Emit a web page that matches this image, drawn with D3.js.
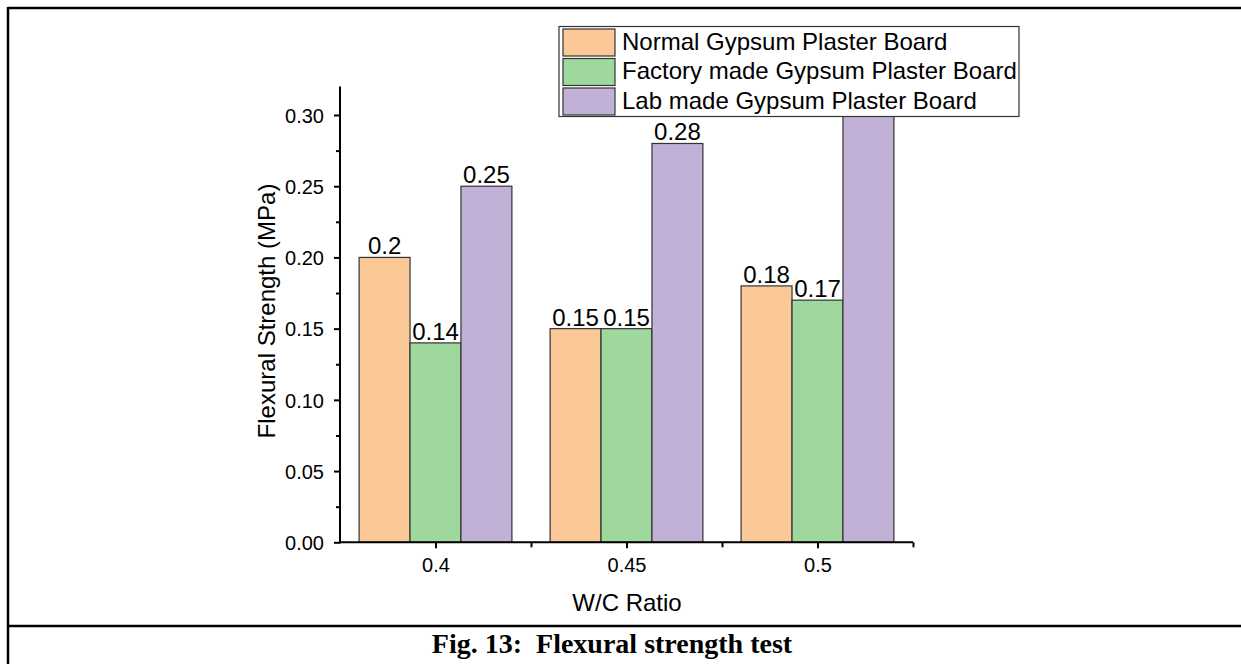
<!DOCTYPE html>
<html><head><meta charset="utf-8">
<script src="https://cdn.jsdelivr.net/npm/d3@7"></script>
<style>body{margin:0;background:#fff;} svg{display:block;}</style>
</head><body>
<svg id="c" width="1241" height="664"></svg>
<script>
const categories = [0.4, 0.45, 0.5];
const seriesNames = ["Normal Gypsum Plaster Board", "Factory made Gypsum Plaster Board", "Lab made Gypsum Plaster Board"];
const normalValues = [0.20, 0.15, 0.18];
const factoryValues = [0.14, 0.15, 0.17];
const labValues = [0.25, 0.28, 0.33];
// label of the last lab bar is hidden behind the legend in the reference
const valueLabels = [["0.2","0.15","0.18"],["0.14","0.15","0.17"],["0.25","0.28",null]];
const colors = ["#FBC997", "#9FD89D", "#C1B1D6"];
const yTicks = [0, 0.05, 0.10, 0.15, 0.20, 0.25, 0.30];
const xTicks = [0.4, 0.45, 0.5];

const svg = d3.select("#c");
const series = [normalValues, factoryValues, labValues];
const font = "Arial, 'Liberation Sans', sans-serif";

// outer frame
svg.append("line").attr("x1",8).attr("x2",1241).attr("y1",8).attr("y2",8).attr("stroke","#000").attr("stroke-width",2.5);
svg.append("line").attr("x1",8).attr("x2",8).attr("y1",7).attr("y2",664).attr("stroke","#000").attr("stroke-width",2.5);
svg.append("line").attr("x1",8).attr("x2",1241).attr("y1",626).attr("y2",626).attr("stroke","#000").attr("stroke-width",2.5);

const x = d3.scaleLinear().domain([0.375, 0.525]).range([340, 913]);
const y = d3.scaleLinear().domain([0, 0.32]).range([542.3, 86.5]);
const barW = 0.04/3;

const g = svg.append("g");
series.forEach((vals, si) => {
  g.selectAll(null).data(vals).enter().append("rect")
    .attr("x", (d,i) => x(categories[i] - 1.5*barW + si*barW))
    .attr("width", x(barW) - x(0))
    .attr("y", d => y(d))
    .attr("height", d => y(0) - y(d))
    .attr("fill", colors[si]).attr("stroke", "#333").attr("stroke-width", 1.2);
  g.selectAll(null).data(vals.map((d,i)=>({d,i,l:valueLabels[si][i]})).filter(o=>o.l)).enter().append("text")
    .attr("x", o => x(categories[o.i] - barW + si*barW))
    .attr("y", o => y(o.d) - 3)
    .attr("text-anchor","middle").attr("font-family",font).attr("font-size",24)
    .text(o => o.l);
});

// axes
const yAxis = d3.axisLeft(y).tickValues(yTicks).tickFormat(d3.format(".2f")).tickSize(6).tickPadding(10);
const ya = svg.append("g").attr("transform","translate(340,0)").call(yAxis);
const yMinor = d3.axisLeft(y).tickValues(d3.range(0.025,0.32,0.05)).tickFormat("").tickSize(4);
svg.append("g").attr("transform","translate(340,0)").call(yMinor).select(".domain").remove();
const xAxis = d3.axisBottom(x).tickValues(xTicks).tickFormat(d => String(d)).tickSize(6).tickPadding(10);
const xa = svg.append("g").attr("transform","translate(0,542.3)").call(xAxis);
const xMinor = d3.axisBottom(x).tickValues([0.425, 0.475, 0.525]).tickFormat("").tickSize(5);
svg.append("g").attr("transform","translate(0,542.3)").call(xMinor).select(".domain").remove();
[ya, xa].forEach(a => {
  a.selectAll("text").attr("font-family",font).attr("font-size",20).attr("fill","#000");
});
ya.selectAll("text").attr("dy","0.36em");
svg.selectAll(".domain").attr("stroke","#000").attr("stroke-width",2);
svg.selectAll(".tick line").attr("stroke","#000").attr("stroke-width",2);
ya.select(".domain").attr("d","M0,543.3V86.5");
xa.select(".domain").attr("d","M339,0H913");

svg.append("text").attr("transform","translate(275,311) rotate(-90)").attr("text-anchor","middle")
  .attr("font-family",font).attr("font-size",24).text("Flexural Strength (MPa)");
svg.append("text").attr("x",627).attr("y",611).attr("text-anchor","middle")
  .attr("font-family",font).attr("font-size",24).text("W/C Ratio");

// legend
const lg = svg.append("g");
lg.append("rect").attr("x",559).attr("y",26.5).attr("width",460).attr("height",90).attr("fill","#fff").attr("stroke","#333").attr("stroke-width",1.2);
seriesNames.forEach((n, i) => {
  lg.append("rect").attr("x",563).attr("y",29+i*29.5).attr("width",52).attr("height",27)
    .attr("fill",colors[i]).attr("stroke","#333").attr("stroke-width",1.2);
  lg.append("text").attr("x",622).attr("y",50+i*29.3).attr("font-family",font).attr("font-size",24).text(n);
});

svg.append("text").attr("x",612).attr("y",653).attr("text-anchor","middle")
  .attr("font-family","'Liberation Serif','Times New Roman',serif").attr("font-weight","bold").attr("font-size",28)
  .attr("xml:space","preserve").style("white-space","pre").text("Fig. 13:  Flexural strength test");
</script>
</body></html>
